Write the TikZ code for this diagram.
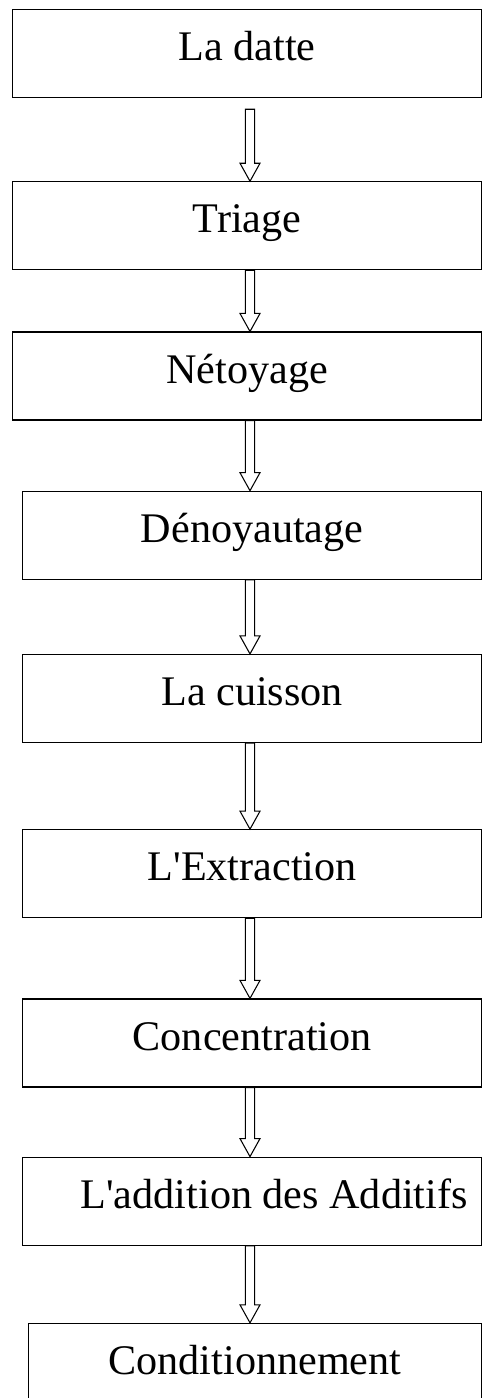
\documentclass[tikz,border=0pt]{standalone}
\usepackage{fontspec}
\setmainfont{Liberation Serif}
\usetikzlibrary{positioning, calc}

\begin{document}
\begin{tikzpicture}[
		etape/.style={draw, line width=0.7pt, inner sep=0pt, minimum height=1.76cm, text height=0.56cm, text depth=0.28cm, font=\fontsize{24}{28}\selectfont, anchor=north east},
		large/.style={etape, minimum width=9.38cm},
		moyen/.style={etape, minimum width=9.18cm},
		petit/.style={etape, minimum width=9.07cm},
		fleche/.style={line width=0.6pt, to path={
				($(\tikztostart)+(-0.093,0)$) -- ($(\tikztotarget)+(-0.093,0.36)$) -- ($(\tikztotarget)+(-0.2,0.36)$) -- (\tikztotarget)
				-- ($(\tikztotarget)+(0.2,0.36)$) -- ($(\tikztotarget)+(0.093,0.36)$) -- ($(\tikztostart)+(0.093,0)$) -- cycle}}
		]
		\useasboundingbox (0,0) rectangle (9.66,-27.96);
		
		\node[large] (b1) at (9.646,-0.18) {La datte};
		\node[below=1.66cm of b1.south east, large] (b2) {Triage};
		\node[below=1.22cm of b2.south east, large] (b3) {Nétoyage};
		\node[below=1.40cm of b3.south east, moyen] (b4) {Dénoyautage};
		\node[below=1.48cm of b4.south east, moyen] (b5) {La cuisson};
		\node[below=1.72cm of b5.south east, moyen] (b6) {L\textquotesingle Extraction};
		\node[below=1.60cm of b6.south east, moyen] (b7) {Concentration};
		\node[below=1.38cm of b7.south east, moyen] (b8) {\hspace*{0.88cm}L\textquotesingle addition des Additifs};
		\node[below=1.54cm of b8.south east, petit] (b9) {Conditionnement};
		
		\coordinate (axe) at (5.0,0);
		\draw[fleche] ($(b1.south -| axe)+(0,-0.22)$) to (b2.north -| axe);
		\foreach \i/\j in {2/3,3/4,4/5,5/6,6/7,7/8,8/9}{
			\draw[fleche] (b\i.south -| axe) to (b\j.north -| axe);
		}
		
	\end{tikzpicture}
\end{document}
